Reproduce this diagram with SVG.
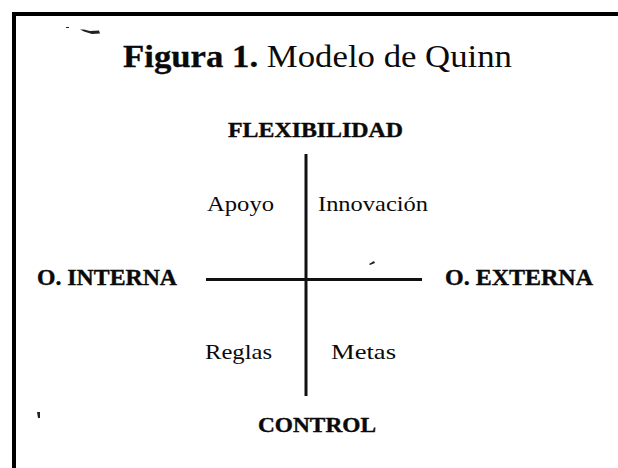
<svg xmlns="http://www.w3.org/2000/svg" width="618" height="468" viewBox="0 0 618 468">
<style>
.b{font-family:"Liberation Serif","Times New Roman",Times,"Nimbus Roman","Nimbus Roman No9 L",Tinos,serif;font-weight:bold;fill:#0a0a0a;stroke:#0a0a0a;stroke-width:0.4}
.r{font-family:"Liberation Serif","Times New Roman",Times,"Nimbus Roman","Nimbus Roman No9 L",Tinos,serif;fill:#0a0a0a}
.ln{stroke:#111;stroke-width:3;fill:none}
</style>
<rect width="618" height="468" fill="#fff"/>
<g id="frame">
<path d="M14,468 V14 H618" stroke="#000" stroke-width="4" fill="none"/>
</g>
<g id="specks" fill="#222">
<path d="M80,29.5 L84,29.5 L90,31 L99,30.5 L100,33.5 L92,34 L84,31.5 Z"/>
<rect x="66" y="27" width="3" height="1"/>
<path d="M37,412 L40,412 L40,418 L38,418 Z"/>
<path d="M369,264 L374,261 L375,263 L370,265 Z"/>
</g>
<g id="title">
<text x="123" y="67" font-size="32" textLength="389" lengthAdjust="spacingAndGlyphs"><tspan class="b" style="stroke-width:0.3">Figura 1.</tspan><tspan class="r"> Modelo de Quinn</tspan></text>
</g>
<g id="connectors">
<line class="ln" x1="306" y1="154" x2="306" y2="396"/>
<line class="ln" x1="206" y1="279.5" x2="422" y2="279.5"/>
</g>
<g id="flexibilidad"><text class="b" x="228" y="137" font-size="22" textLength="175" lengthAdjust="spacingAndGlyphs">FLEXIBILIDAD</text></g>
<g id="control"><text class="b" x="258" y="432" font-size="22" textLength="118" lengthAdjust="spacingAndGlyphs">CONTROL</text></g>
<g id="o-interna"><text class="b" x="37" y="285" font-size="23" textLength="140" lengthAdjust="spacingAndGlyphs">O. INTERNA</text></g>
<g id="o-externa"><text class="b" x="445" y="285" font-size="23" textLength="148" lengthAdjust="spacingAndGlyphs">O. EXTERNA</text></g>
<g id="apoyo"><text class="r" x="207" y="211" font-size="22" textLength="67" lengthAdjust="spacingAndGlyphs">Apoyo</text></g>
<g id="innovacion"><text class="r" x="318" y="211" font-size="22" textLength="110" lengthAdjust="spacingAndGlyphs">Innovación</text></g>
<g id="reglas"><text class="r" x="205" y="359" font-size="22" textLength="67" lengthAdjust="spacingAndGlyphs">Reglas</text></g>
<g id="metas"><text class="r" x="331" y="359" font-size="22" textLength="65" lengthAdjust="spacingAndGlyphs">Metas</text></g>
</svg>
